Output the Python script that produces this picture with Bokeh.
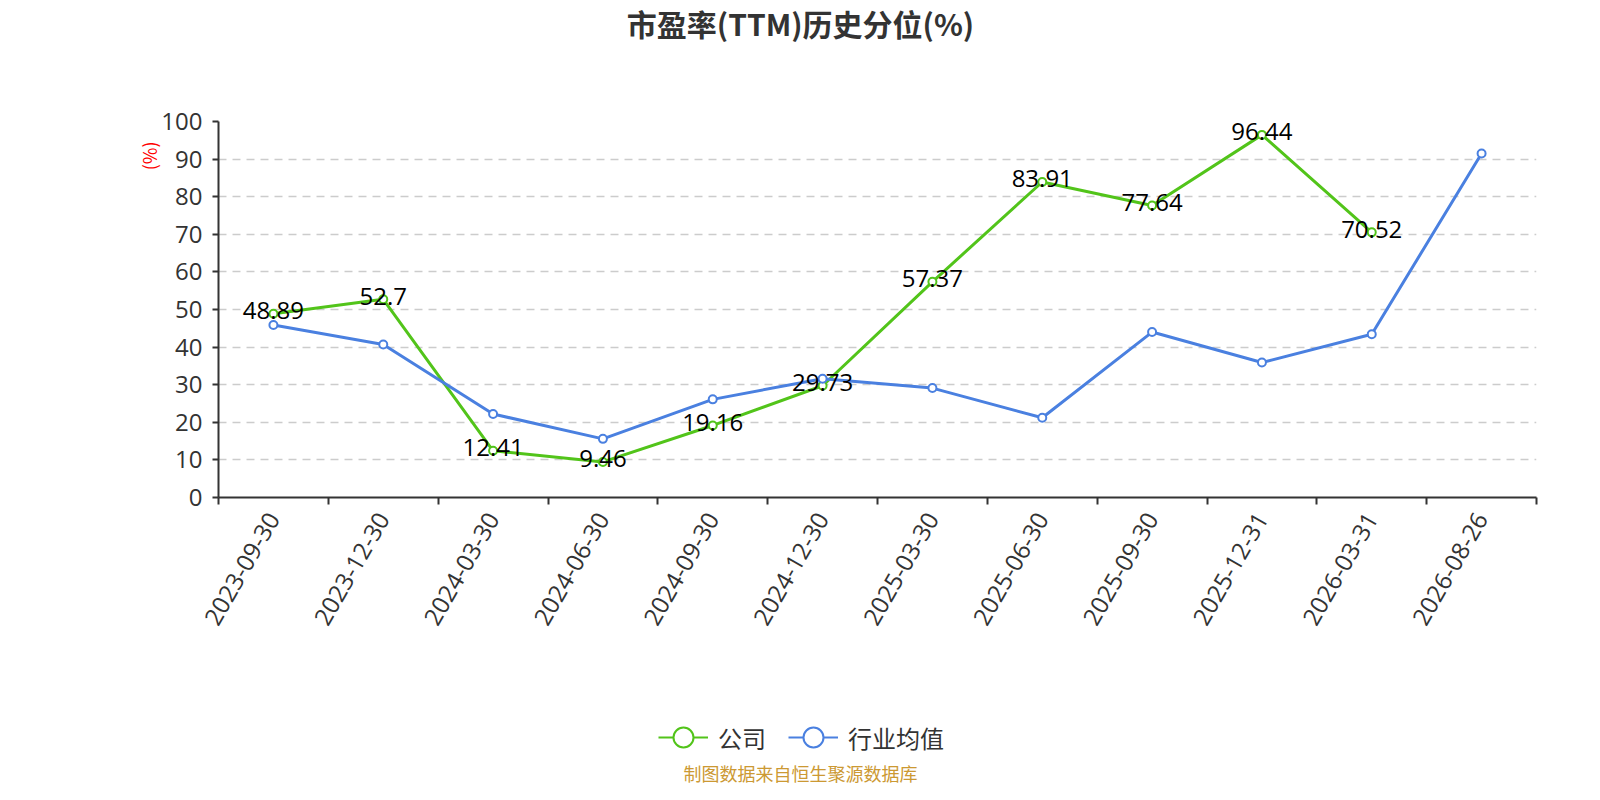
import math
from bokeh.plotting import figure
from bokeh.layouts import column
from bokeh.models import (ColumnDataSource, Range1d, FixedTicker, Legend, LegendItem,
                          Label, LabelSet, Title)
from bokeh.embed import file_html
from bokeh.resources import INLINE
from bokeh.core.properties import value

dates = ["2023-09-30", "2023-12-30", "2024-03-30", "2024-06-30", "2024-09-30", "2024-12-30",
         "2025-03-30", "2025-06-30", "2025-09-30", "2025-12-31", "2026-03-31", "2026-08-26"]
company = [48.89, 52.7, 12.41, 9.46, 19.16, 29.73, 57.37, 83.91, 77.64, 96.44, 70.52]
industry = [45.9, 40.7, 22.2, 15.6, 26.1, 31.6, 29.1, 21.2, 44.0, 35.9, 43.4, 91.5]
y_ticks = [0, 10, 20, 30, 40, 50, 60, 70, 80, 90, 100]
series_names = ["公司", "行业均值"]
title_text = "市盈率(TTM)历史分位(%)"
y_unit = "(%)"
source_text = "制图数据来自恒生聚源数据库"

CJK = "Noto Sans CJK SC"
LAT = "'Open Sans', 'Noto Sans CJK SC'"
GREEN = "#52c41a"
BLUE = "#4a80e0"
W = 1584
H_HEAD, H_MAIN, H_LEG = 50, 640, 94
FL = 218  # frame left (all stacked figures share it)


def bare(height):
    f = figure(width=W, height=height, output_backend="svg", toolbar_location=None,
               x_axis_type=None, y_axis_type=None, x_range=Range1d(0, 1), y_range=Range1d(-2, -1),
               min_border=0)
    f.outline_line_color = None
    f.grid.visible = False
    return f


# ---- header with title
head = bare(H_HEAD)
head.add_layout(Label(x=800 - FL, y=H_HEAD - 22, x_units="screen", y_units="screen", text=title_text,
                      text_align="center", text_baseline="middle", text_font_size="30px",
                      text_font_style="bold", text_color="#333333", text_font=CJK))

# ---- main chart
p = figure(width=W, height=H_MAIN, output_backend="svg", toolbar_location=None,
           x_range=Range1d(0, len(dates)), y_range=Range1d(0, 100),
           min_border_left=FL, min_border_right=W - 1536, min_border_top=121 - H_HEAD,
           min_border_bottom=H_HEAD + H_MAIN - 497)
p.outline_line_color = None

centers = [i + 0.5 for i in range(len(dates))]
p.xaxis.ticker = FixedTicker(ticks=centers, minor_ticks=list(range(len(dates) + 1)))
p.xaxis.major_label_overrides = {c: d for c, d in zip(centers, dates)}
p.xaxis.major_tick_out = 0
p.xaxis.major_tick_in = 0
p.xaxis.minor_tick_out = 7
p.xaxis.minor_tick_in = 0
p.xaxis.minor_tick_line_color = "#333333"
p.xaxis.minor_tick_line_width = 2
p.xaxis.major_label_orientation = math.pi / 3
p.xaxis.major_label_text_font_size = "24px"
p.xaxis.major_label_text_color = "#333333"
p.xaxis.major_label_text_font = LAT
p.xaxis.axis_line_color = "#333333"
p.xaxis.axis_line_width = 2
p.xaxis.major_label_standoff = 10

p.yaxis.ticker = FixedTicker(ticks=y_ticks)
p.yaxis.minor_tick_line_color = None
p.yaxis.major_tick_out = 6
p.yaxis.major_tick_in = 0
p.yaxis.major_tick_line_color = "#333333"
p.yaxis.major_tick_line_width = 2
p.yaxis.axis_line_color = "#333333"
p.yaxis.axis_line_width = 2
p.yaxis.major_label_text_font_size = "24px"
p.yaxis.major_label_text_color = "#333333"
p.yaxis.major_label_text_font = LAT
p.yaxis.major_label_standoff = 10

p.xgrid.grid_line_color = None
p.ygrid.ticker = FixedTicker(ticks=y_ticks[1:])
p.ygrid.grid_line_color = "#cccccc"
p.ygrid.grid_line_dash = "8 6"
p.ygrid.grid_line_width = 1.5

src_c = ColumnDataSource(dict(x=centers[:len(company)], y=company,
                              t=[f"{v:g}" for v in company]))
src_i = ColumnDataSource(dict(x=centers[:len(industry)], y=industry))

p.line("x", "y", source=src_c, line_color=GREEN, line_width=3)
p.scatter("x", "y", source=src_c, size=8, fill_color="white", line_color=GREEN, line_width=2)
p.line("x", "y", source=src_i, line_color=BLUE, line_width=3)
p.scatter("x", "y", source=src_i, size=8, fill_color="white", line_color=BLUE, line_width=2)

p.add_layout(LabelSet(x="x", y="y", text="t", source=src_c, text_align="center",
                      text_baseline="middle", text_font_size="24px", text_color="black",
                      text_font=value(LAT), y_offset=3))

# y unit, near the top of the left side
unit_title = Title(text=y_unit, align="right", offset=20, standoff=0, text_font_size="18px",
                   text_color="red", text_font=CJK, text_font_style="normal")
try:
    unit_title.standoff = -7
except Exception:
    pass
p.add_layout(unit_title, "left")

# ---- legend + source note
leg = bare(H_LEG)
r = []
for src, col in ((src_c, GREEN), (src_i, BLUE)):
    a = leg.line("x", "y", source=src, line_color=col, line_width=2)
    b = leg.scatter("x", "y", source=src, fill_color="white", line_color=col, line_width=2)
    r.append([a, b])
legend = Legend(items=[LegendItem(label=n, renderers=rr) for n, rr in zip(series_names, r)],
                orientation="horizontal", location=(658 - FL, H_HEAD + H_MAIN + H_LEG - 762),
                glyph_width=50, glyph_height=50, label_text_font_size="24px",
                label_text_color="#333333", label_text_font=CJK, spacing=22,
                background_fill_alpha=0, border_line_color=None, label_standoff=10,
                padding=0, margin=0)
leg.add_layout(legend)
leg.add_layout(Label(x=800 - FL, y=12, x_units="screen", y_units="screen", text=source_text,
                     text_align="center", text_baseline="middle", text_font_size="18px",
                     text_color="#cc9933", text_font=CJK))

layout = column(head, p, leg, spacing=0)
open("out.html", "w").write(file_html(layout, INLINE))
